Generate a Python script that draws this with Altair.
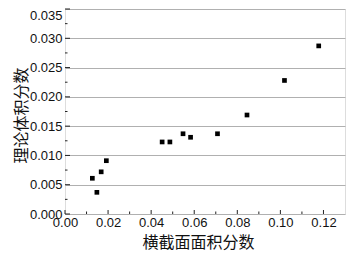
import altair as alt
import pandas as pd

# data
x_vals = [0.0127, 0.0148, 0.0168, 0.0192, 0.0451, 0.0487, 0.0548, 0.0583, 0.0708, 0.0845, 0.1019, 0.1178]
y_vals = [0.0061, 0.0037, 0.0072, 0.0091, 0.0123, 0.0123, 0.0137, 0.0131, 0.0137, 0.0169, 0.0228, 0.0287]

x_major = [0.00, 0.02, 0.04, 0.06, 0.08, 0.10, 0.12]
x_minor = [0.01, 0.03, 0.05, 0.07, 0.09, 0.11]
y_major = [0.000, 0.005, 0.010, 0.015, 0.020, 0.025, 0.030, 0.035]
y_minor = [0.0025, 0.0075, 0.0125, 0.0175, 0.0225, 0.0275, 0.0325]

x_title = "横截面面积分数"
y_title = "理论体积分数"

W, H = 280, 205
LAB_FONT = "Liberation Sans"
CJK_FONT = "Noto Sans CJK SC"

xs = alt.Scale(domain=[0, 0.13], nice=False, zero=False)
ys = alt.Scale(domain=[0, 0.035], nice=False, zero=False)

x_axis = alt.Axis(
    values=x_major, format=".2f", title=x_title, grid=False, ticks=False,
    domain=False, labelFont=LAB_FONT, labelFontSize=13, labelColor="#111",
    labelPadding=2, labelFlush=False, labelOverlap=False,
    titleFont=CJK_FONT, titleFontSize=16, titleFontWeight="normal",
    titleColor="#111", titlePadding=5, titleX=133,
)
y_axis = alt.Axis(
    values=y_major, format=".3f", title=y_title, grid=True, gridColor="#b0b0b0",
    gridWidth=1, ticks=False, domain=False, labelFont=LAB_FONT,
    labelFontSize=13, labelColor="#111", labelPadding=3, labelFlush=False,
    labelOverlap=False,
    labelBaseline={"condition": {"test": "datum.value > 0.034", "value": "top"}, "value": "middle"},
    titleFont=CJK_FONT, titleFontSize=16, titleFontWeight="normal",
    titleColor="#111", titlePadding=0, titleY=106,
)

df = pd.DataFrame({"x": x_vals, "y": y_vals})

points = alt.Chart(df).mark_square(size=22, color="black", opacity=1).encode(
    x=alt.X("x:Q", scale=xs, axis=x_axis),
    y=alt.Y("y:Q", scale=ys, axis=y_axis),
)

def xticks(vals, length):
    return alt.Chart(pd.DataFrame({"x": vals})).mark_rule(color="#222", strokeWidth=1).encode(
        x=alt.X("x:Q", scale=xs, axis=x_axis), y=alt.value(H), y2=alt.value(H - length)
    )

def yticks(vals, length):
    return alt.Chart(pd.DataFrame({"y": vals})).mark_rule(color="#222", strokeWidth=1).encode(
        y=alt.Y("y:Q", scale=ys, axis=y_axis), x=alt.value(0), x2=alt.value(length)
    )

chart = alt.layer(
    points, xticks(x_major, 4), xticks(x_minor, 2.5), yticks(y_major, 5), yticks(y_minor, 2.5)
).properties(
    width=W, height=H, autosize="none",
    padding={"left": 57, "top": 1, "right": 1, "bottom": 40},
).configure_view(stroke="#333", strokeWidth=1).configure(background="white")

chart.save("out.html", embed_options={"renderer": "svg", "actions": False})
